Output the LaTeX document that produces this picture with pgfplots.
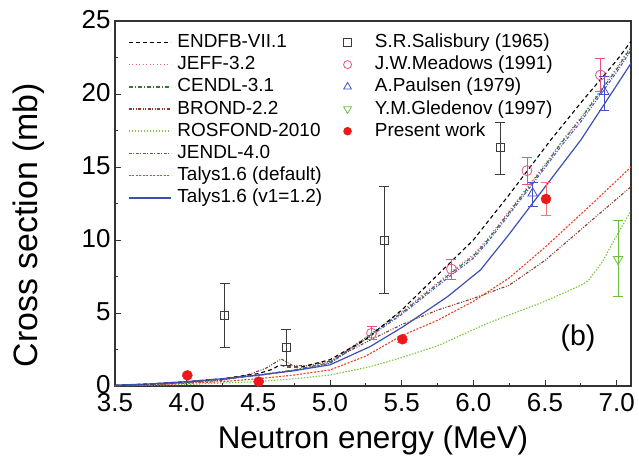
\documentclass[border=0pt]{standalone}
\usepackage{fontspec}
\setmainfont{Liberation Sans}
\usepackage{pgfplots}
\pgfplotsset{compat=1.18}
\definecolor{cJEFF}{RGB}{235,90,140}
\definecolor{cCENDL}{RGB}{50,120,50}
\definecolor{cBROND}{RGB}{140,60,40}
\definecolor{cROS}{RGB}{120,200,60}
\definecolor{cJENDL}{RGB}{90,80,210}
\definecolor{cTD}{RGB}{240,60,30}
\definecolor{cTV}{RGB}{60,80,180}
\definecolor{cMea}{RGB}{235,80,130}
\definecolor{cPau}{RGB}{70,80,200}
\definecolor{cGle}{RGB}{110,190,60}
\definecolor{cPre}{RGB}{235,25,25}
\definecolor{cSal}{RGB}{60,60,60}
\tikzset{
 sENDF/.style={draw=black, line width=1.1bp, dash pattern=on 4bp off 3bp},
 sJEFF/.style={draw=cJEFF, line width=1.1bp, dash pattern=on 1bp off 2.5bp},
 sCENDL/.style={draw=cCENDL, line width=1.1bp, dash pattern=on 4bp off 2bp on 1bp off 2bp},
 sBROND/.style={draw=cBROND, line width=1.1bp, dash pattern=on 3bp off 1.5bp on 1bp off 1.5bp on 1bp off 1.5bp},
 sROS/.style={draw=cROS, line width=1.1bp, dash pattern=on 1.5bp off 1.5bp},
 sJENDL/.style={draw=cJENDL, line width=1.1bp, dash pattern=on 3bp off 1.5bp on 1bp off 1.5bp},
 sTD/.style={draw=cTD, line width=1.1bp, dash pattern=on 2bp off 1.5bp},
 sTV/.style={draw=cTV, line width=1.2bp},
}
\newcommand\legl[2]{\addlegendimage{legend image code/.code={\draw[#1, draw=#2, line width=1.6bp] (0bp,0bp) -- (42bp,0bp);}}}
\pgfplotsset{
 legmark/.style={legend image code/.code={\path (0bp,0bp) (42bp,0bp); \draw[##1] plot coordinates {(21bp,0bp)};}},
}
\begin{document}
\begin{tikzpicture}
\begin{axis}[
 scale only axis, width=516bp, height=365bp,
 xmin=3.5, xmax=7.1, ymin=0, ymax=25,
 xtick={3.5,4,4.5,5,5.5,6,6.5,7},
 xticklabels={3.5,4.0,4.5,5.0,5.5,6.0,6.5,7.0},
 ytick={0,5,10,15,20,25},
 minor x tick num=1, minor y tick num=1,
 tick align=inside, xtick pos=left, ytick pos=left,
 major tick length=6bp, minor tick length=3.5bp,
 axis line style={line width=1.2bp, black!80},
 every tick/.style={black!80, line width=0.9bp},
 /pgf/number format/assume math mode=true,
 tick label style={font=\fontsize{26}{26}\selectfont},
 xticklabel style={yshift=-4bp},
 yticklabel style={xshift=-1bp, yshift=1bp},
 xlabel={Neutron energy (MeV)}, ylabel={Cross section (mb)},
 xlabel style={font=\fontsize{31.5}{32}\selectfont, at={(axis description cs:0.5,-0.170)}, anchor=base},
 ylabel style={font=\fontsize{34}{34}\selectfont, at={(axis description cs:-0.151,0.441)}, anchor=base},
 legend columns=2,
 legend style={at={(axis description cs:0.025,0.966)}, anchor=north west,
   draw=none, fill=none, inner sep=0pt, outer sep=0pt,
   font=\fontsize{19}{22}\selectfont,
   nodes={inner sep=0pt, text height=14bp, text depth=4bp},
   row sep=4.2bp, column sep=6bp,
   /tikz/every even column/.append style={column sep=4bp}},
 legend cell align=left,
]
% legend images (interleaved for two columns)
\legl{sENDF}{black}\addlegendentry{ENDFB-VII.1}
\addlegendimage{legmark, mark=square, mark size=4bp, cSal, line width=0.8bp}\addlegendentry{S.R.Salisbury (1965)}
\legl{sJEFF}{cJEFF}\addlegendentry{JEFF-3.2}
\addlegendimage{legmark, mark=o, mark size=4bp, cMea, line width=0.8bp}\addlegendentry{J.W.Meadows (1991)}
\legl{sCENDL}{cCENDL}\addlegendentry{CENDL-3.1}
\addlegendimage{legmark, mark=triangle, mark size=4.5bp, cPau, line width=0.8bp}\addlegendentry{A.Paulsen (1979)}
\legl{sBROND}{cBROND}\addlegendentry{BROND-2.2}
\addlegendimage{legmark, mark=triangle, mark options={rotate=180}, mark size=4.5bp, cGle, line width=0.8bp}\addlegendentry{Y.M.Gledenov (1997)}
\legl{sROS}{cROS}\addlegendentry{ROSFOND-2010}
\addlegendimage{legmark, mark=*, mark size=4bp, cPre}\addlegendentry{Present work}
\legl{sJENDL}{cJENDL}\addlegendentry{JENDL-4.0}
\addlegendimage{empty legend}\addlegendentry{}
\legl{sTD}{cTD}\addlegendentry{Talys1.6 (default)}
\addlegendimage{empty legend}\addlegendentry{}
\legl{sTV}{cTV}\addlegendentry{Talys1.6 (v1=1.2)}
\addlegendimage{empty legend}\addlegendentry{}

% ROSFOND-2010
\addplot[sROS, forget plot] coordinates {(3.5,0.02)(3.75,0.05)(4.0,0.1)(4.25,0.2)(4.5,0.3)(4.75,0.5)(5.0,0.75)(5.28,1.32)(5.5,1.95)(5.75,2.75)(6.1,4.3)(6.5,5.8)(6.75,6.9)(6.8,7.2)(6.9,8.5)(7.0,10.3)(7.1,12.0)};
% BROND-2.2
\addplot[sBROND, forget plot] coordinates {(3.5,0.03)(3.75,0.1)(4.0,0.2)(4.25,0.4)(4.42,0.75)(4.55,1.2)(4.66,1.85)(4.74,1.4)(4.85,1.4)(5.0,1.7)(5.28,3.15)(5.5,4.2)(5.75,5.2)(6.0,6.0)(6.25,6.9)(6.5,8.6)(6.82,11.3)(7.1,13.65)};
% Talys default
\addplot[sTD, forget plot] coordinates {(3.5,0.03)(3.75,0.08)(4.0,0.18)(4.25,0.3)(4.5,0.5)(4.75,0.75)(5.0,1.1)(5.25,2.05)(5.5,3.45)(5.75,4.5)(6.0,5.8)(6.25,7.4)(6.5,9.5)(6.82,12.4)(7.1,15.0)};
% JENDL-4.0
\addplot[sJENDL, forget plot] coordinates {(3.5,0.03)(3.75,0.1)(4.0,0.25)(4.25,0.45)(4.5,0.72)(4.75,1.05)(5.0,1.55)(5.25,3.2)(5.5,4.9)(5.84,7.55)(6.0,8.75)(6.1,9.85)(6.25,11.75)(6.5,14.95)(6.61,16.4)(6.75,18.1)(7.0,21.5)(7.1,23.0)};
% JEFF-3.2
\addplot[sJEFF, forget plot] coordinates {(3.5,0.03)(3.75,0.1)(4.0,0.25)(4.25,0.45)(4.5,0.75)(4.75,1.1)(5.0,1.65)(5.25,3.35)(5.5,5.1)(5.84,7.8)(6.0,9.0)(6.1,10.1)(6.25,12.0)(6.5,15.2)(6.61,16.7)(6.75,18.4)(7.0,21.8)(7.1,23.3)};
% CENDL-3.1
\addplot[sCENDL, forget plot] coordinates {(3.5,0.03)(3.75,0.1)(4.0,0.25)(4.25,0.45)(4.5,0.75)(4.75,1.1)(5.0,1.6)(5.25,3.3)(5.5,5.0)(5.84,7.7)(6.0,8.9)(6.1,10.0)(6.25,11.9)(6.5,15.1)(6.61,16.6)(6.75,18.3)(7.0,21.7)(7.1,23.2)};
% ENDF/B-VII.1
\addplot[sENDF, forget plot] coordinates {(3.5,0.05)(3.75,0.15)(4.0,0.3)(4.25,0.5)(4.5,0.85)(4.6,1.15)(4.65,1.45)(4.7,1.3)(4.8,1.3)(5.0,1.8)(5.25,3.2)(5.5,5.2)(5.75,7.6)(6.0,10.0)(6.25,13.1)(6.54,16.85)(6.75,19.4)(7.0,22.3)(7.1,23.6)};
% Talys v1=1.2
\addplot[sTV, forget plot] coordinates {(3.5,0.05)(3.75,0.15)(4.0,0.3)(4.25,0.5)(4.5,0.75)(4.75,1.05)(5.0,1.45)(5.28,2.7)(5.51,4.06)(5.82,6.12)(6.05,7.95)(6.25,10.4)(6.44,12.86)(6.75,16.85)(7.0,20.6)(7.1,22.1)};

% Salisbury
\addplot[forget plot, only marks, mark=square, mark size=4bp, cSal, line width=0.8bp,
 error bars/.cd, y dir=both, y explicit, error mark options={rotate=90, mark size=5bp, cSal, line width=0.8bp}, error bar style={cSal, line width=0.8bp}]
 table[x=x, y=y, y error plus=ep, y error minus=em] {
x y ep em
4.264 4.86 2.19 2.21
4.694 2.67 1.21 1.23
5.38 10.0 3.7 3.65
6.187 16.32 1.71 1.8
};
% Meadows
\addplot[forget plot, only marks, mark=o, mark size=5bp, cMea, line width=0.8bp,
 error bars/.cd, y dir=both, y explicit, error mark options={rotate=90, mark size=5bp, cMea, line width=0.8bp}, error bar style={cMea, line width=0.8bp}]
 table[x=x, y=y, y error plus=ep, y error minus=em] {
x y ep em
5.29 3.61 0.45 0.45
5.847 8.01 0.67 0.7
6.374 14.75 0.91 0.91
6.887 21.3 1.14 1.14
};
% Paulsen
\addplot[forget plot, only marks, mark=triangle, mark size=5.5bp, cPau, line width=0.8bp,
 error bars/.cd, y dir=both, y explicit, error mark options={rotate=90, mark size=5bp, cPau, line width=0.8bp}, error bar style={cPau, line width=0.8bp}]
 table[x=x, y=y, y error plus=ep, y error minus=em] {
x y ep em
6.414 13.2 0.75 0.9
6.912 20.16 1.04 1.26
};
% Gledenov
\addplot[forget plot, only marks, mark=triangle, mark options={rotate=180}, mark size=5.5bp, cGle, line width=0.8bp,
 error bars/.cd, y dir=both, y explicit, error mark options={rotate=90, mark size=5bp, cGle, line width=0.8bp}, error bar style={cGle, line width=0.8bp}]
 table[x=x, y=y, y error plus=ep, y error minus=em] {
x y ep em
7.01 8.68 2.69 2.52
};
% Present work
\addplot[forget plot, only marks, mark=*, mark size=5bp, cPre,
 error bars/.cd, y dir=both, y explicit, error mark options={rotate=90, mark size=5bp, cPre!60, line width=0.8bp}, error bar style={cPre!60, line width=0.8bp}]
 table[x=x, y=y, y error plus=ep, y error minus=em] {
x y ep em
4.005 0.73 0.1 0.1
4.502 0.3 0.05 0.05
5.505 3.2 0.2 0.2
6.507 12.81 1.14 1.1
};
\node[font=\fontsize{28.6}{29}\selectfont] at (axis cs:6.73,3.27) {(b)};
\end{axis}
\pgfresetboundingbox
\path ([shift={(-115bp,-75bp)}]current axis.south west) rectangle ([shift={(8bp,21bp)}]current axis.north east);
\end{tikzpicture}
\end{document}
